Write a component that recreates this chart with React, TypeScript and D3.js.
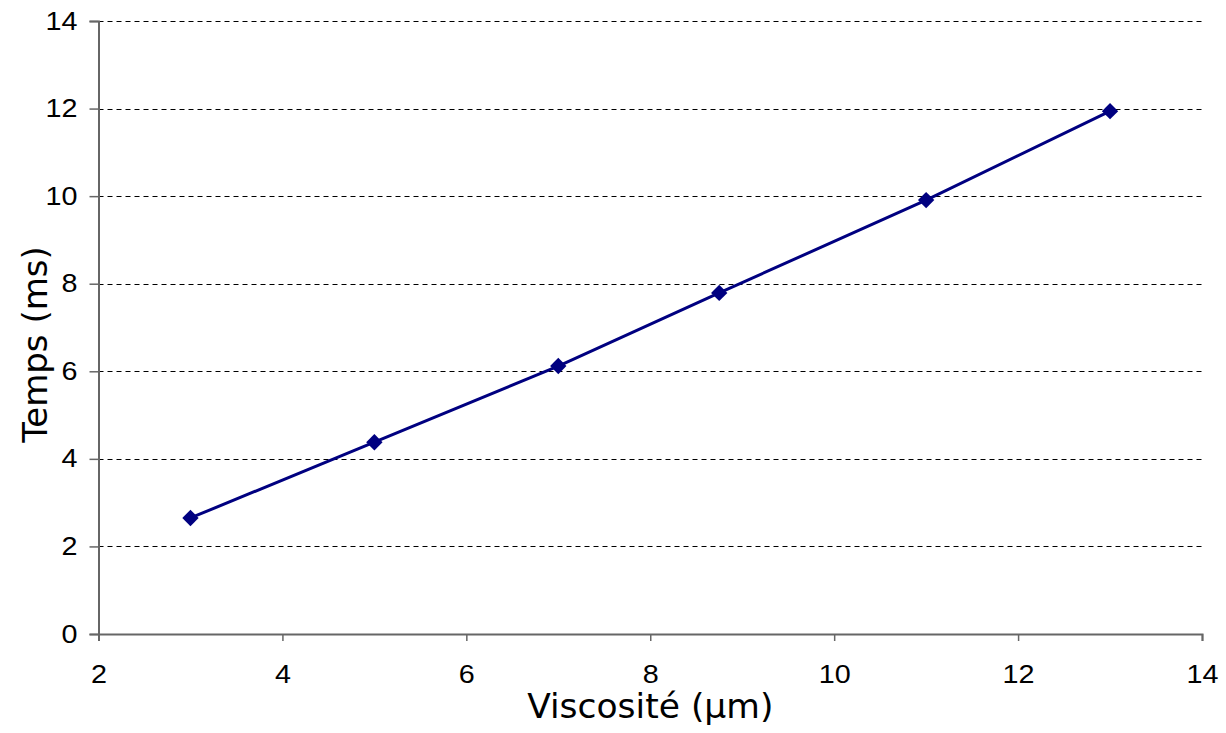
import React, { useRef, useEffect } from 'react';
import * as d3 from 'd3';

const viscosite = [3, 5, 7, 8.75, 11, 13];
const temps = [2.65, 4.38, 6.12, 7.79, 9.91, 11.94];
const xTicks = [2, 4, 6, 8, 10, 12, 14];
const yTicks = [0, 2, 4, 6, 8, 10, 12, 14];

const width = 1226;
const height = 733;
const margin = { top: 21, right: 24, bottom: 99, left: 98.5 };

// the tick labels of the original look a bit stretched sideways
const labelStretch = 1.15;

const App: React.FC = () => {
  const svgRef = useRef<SVGSVGElement>(null);

  useEffect(() => {
    if (!svgRef.current) return;
    const svg = d3.select(svgRef.current);
    svg.selectAll('*').remove();

    const x = d3.scaleLinear().domain([2, 14]).range([margin.left, width - margin.right]);
    const y = d3.scaleLinear().domain([0, 14]).range([height - margin.bottom, margin.top]);

    // dashed grid lines
    svg
      .append('g')
      .selectAll('line')
      .data(yTicks.filter((t) => t > 0))
      .join('line')
      .attr('x1', x(2))
      .attr('x2', x(14))
      .attr('y1', (d) => Math.round(y(d)) + 0.5)
      .attr('y2', (d) => Math.round(y(d)) + 0.5)
      .attr('stroke', '#000')
      .attr('stroke-width', 1)
      .attr('stroke-dasharray', '5,4');

    const tickFont = 'Liberation Sans, Arial, sans-serif';

    // y axis
    const yAxis = svg
      .append('g')
      .attr('transform', `translate(${margin.left},0)`)
      .call(d3.axisLeft(y).tickValues(yTicks).tickSize(9).tickPadding(12).tickFormat(d3.format('d')))
      .attr('font-size', null)
      .attr('font-family', null);
    yAxis.select('.domain').attr('stroke', '#666').attr('stroke-width', 2);
    yAxis.selectAll('.tick line').attr('stroke', '#666').attr('stroke-width', 1.5);
    yAxis
      .selectAll('.tick text')
      .attr('x', -21 / labelStretch)
      .attr('transform', `scale(${labelStretch},1)`)
      .style('font-family', tickFont)
      .style('font-size', '25px')
      .attr('fill', '#000');

    // x axis
    const xAxis = svg
      .append('g')
      .attr('transform', `translate(0,${height - margin.bottom})`)
      .call(d3.axisBottom(x).tickValues(xTicks).tickSize(7).tickPadding(24).tickFormat(d3.format('d')))
      .attr('font-size', null)
      .attr('font-family', null);
    xAxis.select('.domain').attr('stroke', '#666').attr('stroke-width', 2);
    xAxis.selectAll('.tick line').attr('stroke', '#666').attr('stroke-width', 1.5);
    xAxis
      .selectAll('.tick text')
      .attr('transform', `scale(${labelStretch},1)`)
      .style('font-family', tickFont)
      .style('font-size', '25px')
      .attr('fill', '#000');

    // series line
    const line = d3
      .line<number>()
      .x((_, i) => x(viscosite[i]))
      .y((d) => y(d));
    svg
      .append('path')
      .datum(temps)
      .attr('d', line)
      .attr('fill', 'none')
      .attr('stroke', '#000080')
      .attr('stroke-width', 3);

    // diamond markers
    const diamond = d3.symbol().type(d3.symbolDiamond2).size(170);
    svg
      .append('g')
      .selectAll('path')
      .data(temps)
      .join('path')
      .attr('d', diamond)
      .attr('transform', (d, i) => `translate(${x(viscosite[i])},${y(d)})`)
      .attr('fill', '#000080');

    // axis titles
    svg
      .append('text')
      .attr('x', (x(2) + x(14)) / 2)
      .attr('y', 718)
      .attr('text-anchor', 'middle')
      .style('font-family', 'DejaVu Sans, sans-serif')
      .style('font-size', '34.5px')
      .attr('fill', '#000')
      .text('Viscosité (µm)');

    svg
      .append('text')
      .attr('transform', `translate(47,${(y(0) + y(14)) / 2 + 17}) rotate(-90)`)
      .attr('text-anchor', 'middle')
      .style('font-family', 'DejaVu Sans, sans-serif')
      .style('font-size', '34px')
      .attr('fill', '#000')
      .text('Temps (ms)');
  }, []);

  return (
    <svg
      ref={svgRef}
      width={width}
      height={height}
      style={{ position: 'absolute', left: 0, top: 0, background: '#fff' }}
    />
  );
};

export default App;
